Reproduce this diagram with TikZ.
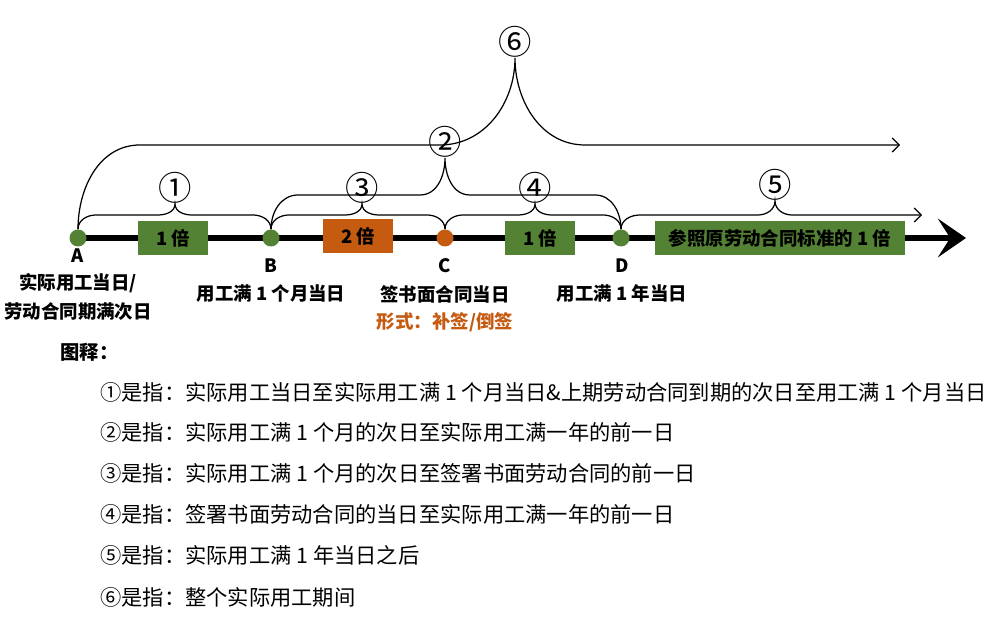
\documentclass[tikz,border=0pt]{standalone}
\usepackage{fontspec}
\setmainfont{Noto Sans CJK SC}
\usetikzlibrary{arrows.meta}
\definecolor{leaf}{RGB}{84,130,53}
\definecolor{rust}{RGB}{197,90,17}

\begin{document}
\begin{tikzpicture}
      [
        x=0.02cm, y=0.02cm,
        Dot/.style={circle, inner sep=0pt, minimum size=17*0.02cm},
        RateBox/.style={fill=#1, minimum width=70*0.02cm, minimum height=34*0.02cm, inner sep=0pt, font=\bfseries\fontsize{10.5}{12}\selectfont},
        DayText/.style={font=\bfseries\fontsize{10.5}{13}\selectfont, align=center},
        Tag/.style={font=\fontsize{19}{20}\selectfont, inner sep=0pt},
        Span/.style={line width=0.7pt},
        Note/.style={anchor=west, font=\fontsize{12.1}{14}\selectfont, inner sep=0pt},
      ]
      \useasboundingbox (0,0) rectangle (1000,634);

      % time line
      \coordinate (start) at (78,396);
      \coordinate (tip) at (966,396);
      \draw[line width=6*0.02cm, -{Stealth[length=16pt, width=22pt, inset=7pt]}] (start) -- (tip);

      \node [RateBox=leaf] (r1) at (173,396) {1 倍};
      \node [RateBox=rust] (r2) at (358,398) {2 倍};
      \node [RateBox=leaf] (r3) at (540,396) {1 倍};
      \node [RateBox=leaf, minimum width=250*0.02cm] (r4) at (780,396) {参照原劳动合同标准的 1 倍};

      \node [Dot, fill=leaf] (A) at (78,396) {};
      \node [Dot, fill=leaf] (B) at (271,396) {};
      \node [Dot, fill=rust] (C) at (445,396) {};
      \node [Dot, fill=leaf] (D) at (621,396) {};

      \node [DayText] (la) at (78,378) {A};
      \node [DayText] (lb) at (271,368) {B};
      \node [DayText] (lc) at (445,368) {C};
      \node [DayText] (ld) at (622,368) {D};

      \node [DayText] (ta) at (78,337) {实际用工当日/\\[3pt]劳动合同期满次日};
      \node [DayText] (tb) at (271,340) {用工满 1 个月当日};
      \node [DayText] (tc) at (445,340) {签书面合同当日};
      \node [DayText, text=rust] (tc2) at (445,312) {形式：补签/倒签};
      \node [DayText] (td) at (622,340) {用工满 1 年当日};

      % spans
      \node [Tag] (s1) at (175,446) {①};
      \node [Tag] (s2) at (445,492) {②};
      \node [Tag] (s3) at (362,446) {③};
      \node [Tag] (s4) at (535,446) {④};
      \node [Tag] (s5) at (775,449) {⑤};
      \node [Tag] (s6) at (515,592) {⑥};
      \coordinate (e5) at (922,419);
      \coordinate (e6) at (900,489);

      \draw[Span] (A.north) to[out=90,in=180] (96,419) -- (158,419) to[out=0,in=-90] (s1.south)
        to[out=-90,in=180] (192,419) -- (253,419) to[out=0,in=90] (B.north);
      \draw[Span] (B.north) to[out=90,in=180] (289,419) -- (345,419) to[out=0,in=-90] (s3.south)
        to[out=-90,in=180] (379,419) -- (427,419) to[out=0,in=90] (C.north);
      \draw[Span] (C.north) to[out=90,in=180] (463,419) -- (518,419) to[out=0,in=-90] (s4.south)
        to[out=-90,in=180] (552,419) -- (603,419) to[out=0,in=90] (D.north);
      \draw[Span, -{Straight Barb[length=4pt]}] (D.north) to[out=90,in=180] (640,419) -- (758,419)
        to[out=0,in=-90] (s5.south) to[out=-90,in=180] (792,419) -- (e5);
      \draw[Span] (B.north) to[out=90,in=180] (298,439) -- (420,439) to[out=0,in=-90] (s2.south)
        to[out=-90,in=180] (470,439) -- (595,439) to[out=0,in=90] (D.north);
      \draw[Span, -{Straight Barb[length=4pt]}] (A.north) to[out=90,in=180] (140,489) -- (440,489)
        to[out=0,in=-90] (s6.south) to[out=-90,in=180] (585,489) -- (e6);

      % legend
      \node [anchor=west, font=\bfseries\fontsize{11}{13}\selectfont, inner sep=0pt] (key) at (60,282) {图释：};
      \node [Note] (n1) at (100,242) {①是指：实际用工当日至实际用工满 1 个月当日\&上期劳动合同到期的次日至用工满 1 个月当日};
      \node [Note] (n2) at (100,202) {②是指：实际用工满 1 个月的次日至实际用工满一年的前一日};
      \node [Note] (n3) at (100,161) {③是指：实际用工满 1 个月的次日至签署书面劳动合同的前一日};
      \node [Note] (n4) at (100,120) {④是指：签署书面劳动合同的当日至实际用工满一年的前一日};
      \node [Note] (n5) at (100,79) {⑤是指：实际用工满 1 年当日之后};
      \node [Note] (n6) at (100,37) {⑥是指：整个实际用工期间};
    \end{tikzpicture}
\end{document}
